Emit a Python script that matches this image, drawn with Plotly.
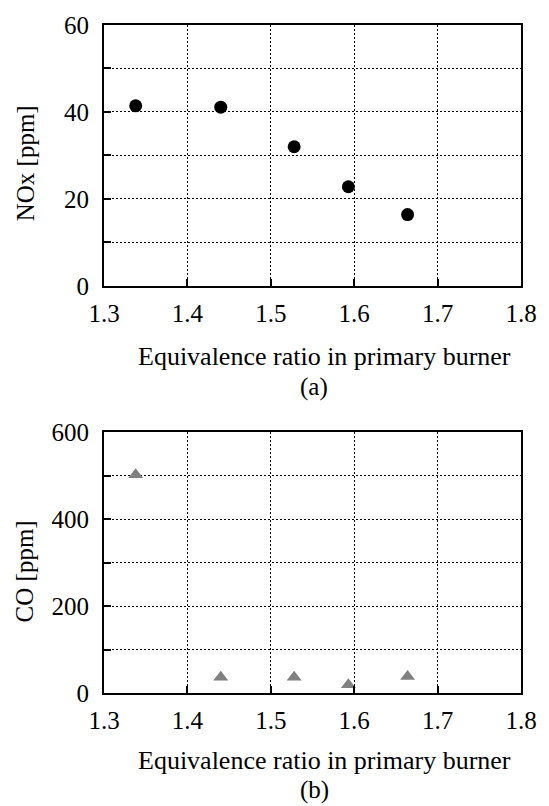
import plotly.graph_objects as go
from plotly.subplots import make_subplots

# Data
phi = [1.338, 1.440, 1.528, 1.593, 1.664]
nox = [41.4, 41.1, 32.0, 22.8, 16.4]
co = [502, 36, 36, 19, 38]

x_ticks = [1.3, 1.4, 1.5, 1.6, 1.7, 1.8]
x_ticktext = ["1.3", "1.4", "1.5", "1.6", "1.7", "1.8"]
nox_ticks = [0, 10, 20, 30, 40, 50, 60]
nox_ticktext = ["0", "", "20", "", "40", "", "60"]
co_ticks = [0, 100, 200, 300, 400, 500, 600]
co_ticktext = ["0", "", "200", "", "400", "", "600"]

FONT = "Liberation Serif"
W, H = 549, 806
ML, MR, MT, MB = 104, 23, 17, 113

fig = make_subplots(rows=2, cols=1, vertical_spacing=(429 - 281) / (H - MT - MB))

fig.add_trace(go.Scatter(x=phi, y=nox, mode="markers",
                         marker=dict(symbol="circle", size=13, color="black"),
                         showlegend=False), row=1, col=1)
fig.add_trace(go.Scatter(x=phi, y=co, mode="markers",
                         marker=dict(symbol="triangle-up", size=13, color="#808080"),
                         showlegend=False), row=2, col=1)

axis_common = dict(showline=True, linecolor="black", linewidth=2, mirror=True,
                   ticks="inside", ticklen=7, tickwidth=1.5, tickcolor="black",
                   showgrid=True, gridcolor="black", gridwidth=1, griddash="2px,2px",
                   zeroline=False, tickfont=dict(family=FONT, size=25, color="black"))

for r in (1, 2):
    fig.update_xaxes(range=[1.3, 1.8], tickvals=x_ticks, ticktext=x_ticktext,
                     ticklabelstandoff=4, row=r, col=1, **axis_common)
fig.update_yaxes(range=[0, 60], tickvals=nox_ticks, ticktext=nox_ticktext,
                 ticklabelstandoff=8, row=1, col=1, **axis_common)
fig.update_yaxes(range=[0, 600], tickvals=co_ticks, ticktext=co_ticktext,
                 ticklabelstandoff=8, row=2, col=1, **axis_common)

PH = H - MT - MB
PW = W - ML - MR

def py(pix):
    return (H - MB - pix) / PH

def px(pix):
    return (pix - ML) / PW

xt_font = dict(family=FONT, size=26, color="black")
lab_font = dict(family=FONT, size=25, color="black")
yt_font = dict(family=FONT, size=25, color="black")
anns = [
    dict(text="Equivalence ratio in primary burner", x=px(327), y=py(352), font=xt_font),
    dict(text="(a)", x=px(317), y=py(383), font=lab_font),
    dict(text="Equivalence ratio in primary burner", x=px(327), y=py(761), font=xt_font),
    dict(text="(b)", x=px(317), y=py(791), font=lab_font),
    dict(text="NOx [ppm]", x=px(24), y=py(157), textangle=-90, font=yt_font),
    dict(text="CO [ppm]", x=px(24), y=py(570), textangle=-90, font=yt_font),
]
for a in anns:
    fig.add_annotation(xref="paper", yref="paper", showarrow=False,
                       xanchor="center", yanchor="middle", borderpad=0, **a)

fig.update_layout(width=W, height=H, margin=dict(l=ML, r=MR, t=MT, b=MB),
                  plot_bgcolor="white", paper_bgcolor="white",
                  font=dict(family=FONT, color="black"))

fig.write_html("out.html", config={"displayModeBar": False},
               post_script="document.body.style.margin='0';document.body.style.overflow='hidden';")
